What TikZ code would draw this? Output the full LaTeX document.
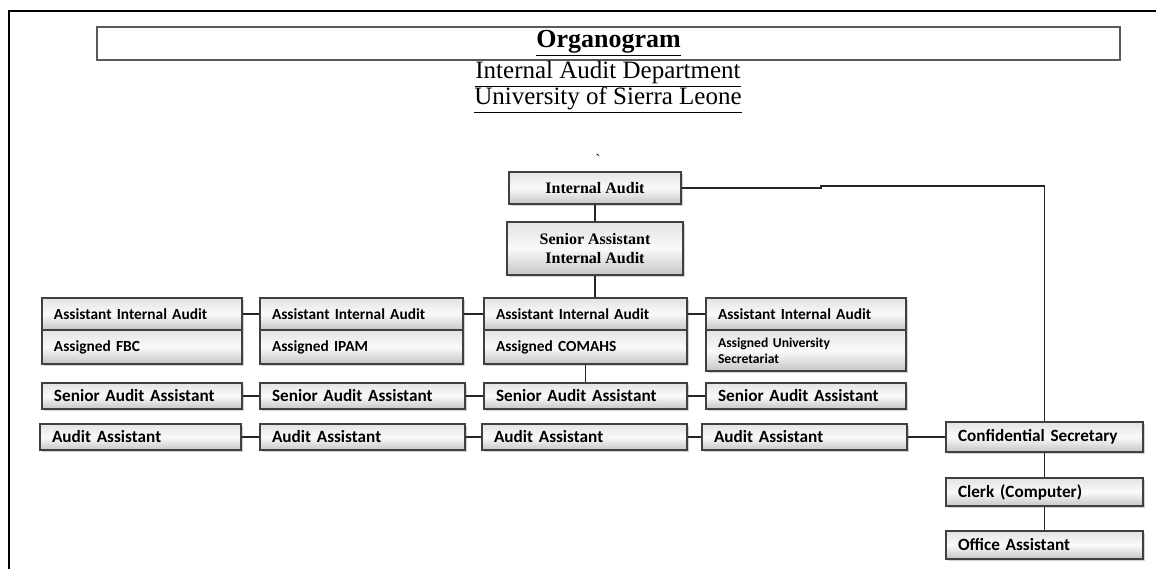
\documentclass[tikz,border=0pt]{standalone}
\usepackage{fontspec}
\setmainfont{Liberation Serif}
\setsansfont{Carlito}
\usetikzlibrary{shadows}
\tikzset{
box/.style={draw=black!75,line width=0.9pt,top color=gray!22,bottom color=gray!45,middle color=gray!4,drop shadow={shadow xshift=1.2pt,shadow yshift=-1.2pt,fill=black!35},inner sep=0pt},
sbox/.style={box,font=\sffamily\bfseries\fontsize{8.6}{10}\selectfont,text width=#1,align=left,inner xsep=6pt,minimum height=13pt},
sbox/.default=88pt,
half/.style={font=\sffamily\bfseries\fontsize{7.7}{9}\selectfont},
rbox/.style={box,font=\bfseries\fontsize{8}{9.5}\selectfont,align=center},
link/.style={draw=black!85,line width=0.9pt}
}
\begin{document}
\begin{tikzpicture}[x=0.5pt,y=-0.5pt]
\useasboundingbox (0,0) rectangle (1156,569);
\draw[line width=1.1pt] (9,569) -- (9,11) -- (1156,11);
\node(tt) at (608.5,43.5) [draw=black!65,line width=1.2pt,minimum width=511.5pt,minimum height=16.5pt,inner sep=0pt,font=\bfseries\fontsize{13}{15}\selectfont] {\underline{Organogram}};
\node(d1) at (608,74) [font=\fontsize{12.5}{14}\selectfont] {\underline{Internal Audit Department}};
\node(d2) at (608,100) [font=\fontsize{12.5}{14}\selectfont] {\underline{University of Sierra Leone}};
\node(bt) at (598,160) [font=\fontsize{8}{8}\selectfont] {\textasciigrave};
\node(ia) at (595,188) [rbox,minimum width=86pt,minimum height=16pt] {Internal Audit};
\node(sa) at (595,248.5) [rbox,minimum width=88pt,minimum height=26.5pt] {Senior Assistant\\Internal Audit};
\node(aia1) at (142,314) [sbox,half,minimum height=16pt] {Assistant Internal Audit};
\node(asg1) at (142,347) [sbox,half,minimum height=17pt] {Assigned FBC};
\node(aia2) at (361.5,314) [sbox=89.5pt,half,minimum height=16pt] {Assistant Internal Audit};
\node(asg2) at (361.5,347) [sbox=89.5pt,half,minimum height=17pt] {Assigned IPAM};
\node(aia3) at (585.5,314) [sbox=89.5pt,half,minimum height=16pt] {Assistant Internal Audit};
\node(asg3) at (585.5,347) [sbox=89.5pt,half,minimum height=17pt] {Assigned COMAHS};
\node(aia4) at (806,314) [sbox,half,minimum height=16pt] {Assistant Internal Audit};
\node(asg4) at (806,350.5) [sbox,minimum height=20.5pt,font=\sffamily\bfseries\fontsize{6.8}{7.8}\selectfont] {Assigned University\\Secretariat};
\node(saa1) at (142,396) [sbox] {Senior Audit Assistant};
\node(saa2) at (362.5,396) [sbox=90.5pt] {Senior Audit Assistant};
\node(saa3) at (585.5,396) [sbox=89.5pt] {Senior Audit Assistant};
\node(saa4) at (806,396) [sbox] {Senior Audit Assistant};
\node(aa1) at (140.5,437) [sbox=88.5pt] {Audit Assistant};
\node(aa2) at (362.5,437) [sbox=90.5pt] {Audit Assistant};
\node(aa3) at (584.5,437) [sbox=90.5pt] {Audit Assistant};
\node(aa4) at (804.5,437) [sbox=90.5pt] {Audit Assistant};
\node(cs) at (1044.5,437) [sbox=86.5pt,minimum height=15pt] {Confidential Secretary};
\node(ck) at (1044.5,492) [sbox=86.5pt,minimum height=14pt] {Clerk (Computer)};
\node(oa) at (1044.5,545) [sbox=86.5pt,minimum height=14pt] {Office Assistant};
\draw[link] (ia) -- (sa);
\draw[link] (sa.south) -- (sa.south |- aia3.north);
\draw[link] (aia1) -- (aia2);
\draw[link] (aia2) -- (aia3);
\draw[link] (aia3) -- (aia4);
\draw[link] (asg3.south) -- (asg3.south |- saa3.north);
\draw[link] (saa1) -- (saa2) -- (saa3) -- (saa4);
\draw[link] (aa1) -- (aa2) -- (aa3) -- (aa4) -- (cs);
\draw[link] (ia.east) -- ++(139,0) -- ++(0,-2) -| (cs.north);
\draw[link] (cs) -- (ck) -- (oa);
\end{tikzpicture}
\end{document}
